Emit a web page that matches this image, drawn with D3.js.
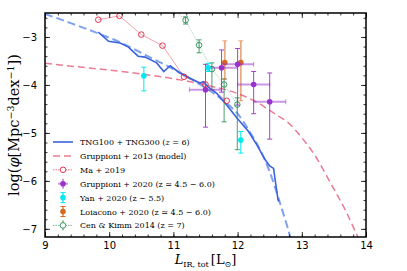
<!DOCTYPE html>
<html>
<head>
<meta charset="utf-8">
<script src="https://cdn.jsdelivr.net/npm/d3@7"></script>
<style>
body { margin: 0; background: #fff; }
svg text { fill: #000; }
.tick text { font-family: "DejaVu Sans", sans-serif; font-size: 10px; }
.leg { font-family: "DejaVu Serif", serif; font-size: 8px; }
</style>
</head>
<body>
<svg id="viz"></svg>
<script>
// TNG100+TNG300 (solid)
var tngX = [9.83, 9.99, 10.17, 10.30, 10.45, 10.56, 10.74, 10.85, 10.95, 11.09, 11.26, 11.41, 11.47, 11.54, 11.67, 11.83, 11.99, 12.17, 12.30, 12.43, 12.50, 12.56, 12.63, 12.645]
var tngY = [-2.90, -3.09, -3.125, -3.21, -3.40, -3.42, -3.54, -3.72, -3.60, -3.74, -3.86, -3.96, -3.93, -4.04, -4.17, -4.42, -4.69, -4.97, -5.25, -5.56, -5.69, -5.74, -6.40, -6.43]

// dashed fit to TNG
var fitX = [9.0, 9.4, 9.8, 10.2, 10.6, 11.0, 11.4, 11.8, 12.0, 12.2, 12.35, 12.5, 12.66, 12.82, 12.9]
var fitY = [-2.52, -2.71, -2.91, -3.13, -3.40, -3.67, -3.98, -4.35, -4.60, -5.0, -5.35, -5.81, -6.46, -7.17, -7.6]

// Gruppioni+2013 model
var g13X = [9.0, 9.5, 10.0, 10.5, 11.0, 11.5, 12.0, 12.3, 12.6, 12.8, 13.0, 13.2, 13.45, 13.7, 13.86, 14.0]
var g13Y = [-3.55, -3.62, -3.69, -3.77, -3.87, -4.0, -4.18, -4.36, -4.62, -4.80, -5.1, -5.46, -6.05, -6.67, -7.13, -7.5]

// Ma+2019
var maX = [9.83, 10.16, 10.50, 10.83, 11.165, 11.50, 11.83]
var maY = [-2.64, -2.56, -2.95, -3.18, -3.83, -3.99, -4.33]

// Gruppioni+2020
var gr20X = [11.5, 11.75, 12.0, 12.25, 12.5]
var gr20Y = [-4.10, -3.64, -3.57, -3.99, -4.35]
var gr20Hi = [-3.57, -3.27, -3.24, -3.72, -3.75]
var gr20Lo = [-4.88, -4.15, -4.42, -4.60, -5.13]
var gr20Xerr = 0.25

// Yan+2020
var yanX = [10.54, 11.54, 12.05]
var yanY = [-3.81, -3.64, -5.15]
var yanHi = [-3.63, -3.55, -4.97]
var yanLo = [-4.125, -3.72, -5.42]

// Loiacono+2020
var loiX = [11.80, 12.05]
var loiY = [-3.535, -3.535]
var loiHi = [-3.08, -3.08]
var loiLo = [-3.88, -4.33]

// Cen & Kimm 2014
var cenX = [11.0, 11.19, 11.40, 11.60, 11.79, 11.995]
var cenY = [-2.42, -2.65, -3.17, -3.67, -3.99, -4.41]
var cenHi = [-2.35, -2.58, -3.06, -3.54, -3.875, -4.27]
var cenLo = [-2.5, -2.73, -3.33, -4.10, -4.77, -5.35]

var xTicks = [9, 10, 11, 12, 13, 14]
var yTicks = [-3, -4, -5, -6, -7]

var width = 407
var height = 271
var margin = {left: 45, top: 13, right: 41, bottom: 34}
var plotW = width - margin.left - margin.right
var plotH = height - margin.top - margin.bottom

var cBlue = "#3b63dd"
var cFit = "#7097ee"
var cPink = "#ec7c95"
var cRed = "#e0203f"
var cPurple = "#9932cc"
var cCyan = "#00e8f0"
var cOrange = "#d5681f"
var cGreen = "#2e8b57"

var svg = d3.select("#viz")
	.attr("width", width)
	.attr("height", height)

var x = d3.scaleLinear().domain([9, 14]).range([0, plotW])
var y = d3.scaleLinear().domain([-7.17, -2.5]).range([plotH, 0])

var g = svg.append("g").attr("transform", "translate(" + margin.left + "," + margin.top + ")")

svg.append("defs").append("clipPath").attr("id", "clip")
	.append("rect").attr("width", plotW).attr("height", plotH)

var plot = g.append("g").attr("clip-path", "url(#clip)")

function zip(xs, ys){
	return xs.map((v, i) => [v, ys[i]])
}

var line = d3.line().x(d => x(d[0])).y(d => y(d[1]))
var smooth = d3.line().x(d => x(d[0])).y(d => y(d[1])).curve(d3.curveMonotoneX)

// model curves
plot.append("path")
	.attr("d", smooth(zip(g13X, g13Y)))
	.attr("fill", "none").attr("stroke", cPink).attr("stroke-width", 1.5)
	.attr("stroke-dasharray", "7,4")

plot.append("path")
	.attr("d", smooth(zip(fitX, fitY)))
	.attr("fill", "none").attr("stroke", cFit).attr("stroke-width", 2).attr("opacity", 0.9)
	.attr("stroke-dasharray", "8,4")

// connecting lines for observations
plot.append("path")
	.attr("d", line(zip(maX, maY)))
	.attr("fill", "none").attr("stroke", cRed).attr("stroke-width", 0.6).attr("opacity", 0.7)

plot.append("path")
	.attr("d", line(zip(cenX, cenY)))
	.attr("fill", "none").attr("stroke", cGreen).attr("stroke-width", 0.6).attr("opacity", 0.6)
	.attr("stroke-dasharray", "1.5,1")

// TNG
plot.append("path")
	.attr("d", line(zip(tngX, tngY)))
	.attr("fill", "none").attr("stroke", cBlue).attr("stroke-width", 1.6)

function vbars(xs, hi, lo, color, w, op){
	xs.forEach(function(v, i){
		var px = x(v)
		plot.append("line").attr("x1", px).attr("x2", px).attr("y1", y(hi[i])).attr("y2", y(lo[i]))
			.attr("stroke", color).attr("stroke-width", w).attr("opacity", op)
		;[hi[i], lo[i]].forEach(function(e){
			plot.append("line").attr("x1", px - 2.5).attr("x2", px + 2.5).attr("y1", y(e)).attr("y2", y(e))
				.attr("stroke", color).attr("stroke-width", 1).attr("opacity", op)
		})
	})
}

function hbars(xs, ys, err, color, w, op){
	xs.forEach(function(v, i){
		var py = y(ys[i])
		plot.append("line").attr("x1", x(v - err)).attr("x2", x(v + err)).attr("y1", py).attr("y2", py)
			.attr("stroke", color).attr("stroke-width", w).attr("opacity", op)
		;[v - err, v + err].forEach(function(e){
			plot.append("line").attr("x1", x(e)).attr("x2", x(e)).attr("y1", py - 2.5).attr("y2", py + 2.5)
				.attr("stroke", color).attr("stroke-width", 1).attr("opacity", op)
		})
	})
}

// Cen & Kimm
vbars(cenX, cenHi, cenLo, cGreen, 1, 0.85)
plot.selectAll(".cen").data(zip(cenX, cenY)).enter().append("circle")
	.attr("cx", d => x(d[0])).attr("cy", d => y(d[1])).attr("r", 2.8)
	.attr("fill", "none").attr("stroke", cGreen).attr("stroke-width", 0.9)

// Loiacono
vbars(loiX, loiHi, loiLo, cOrange, 1.8, 0.55)
plot.selectAll(".loi").data(zip(loiX, loiY)).enter().append("circle")
	.attr("cx", d => x(d[0])).attr("cy", d => y(d[1])).attr("r", 2.8)
	.attr("fill", cOrange)

// Gruppioni 2020
hbars(gr20X, gr20Y, gr20Xerr, cPurple, 2, 0.5)
vbars(gr20X, gr20Hi, gr20Lo, cPurple, 1, 0.9)
plot.selectAll(".gr").data(zip(gr20X, gr20Y)).enter().append("circle")
	.attr("cx", d => x(d[0])).attr("cy", d => y(d[1])).attr("r", 2.8)
	.attr("fill", cPurple)

// Yan
vbars(yanX, yanHi, yanLo, cCyan, 1, 1)
plot.selectAll(".yan").data(zip(yanX, yanY)).enter().append("circle")
	.attr("cx", d => x(d[0])).attr("cy", d => y(d[1])).attr("r", 2.8)
	.attr("fill", cCyan)

// Ma
plot.selectAll(".ma").data(zip(maX, maY)).enter().append("circle")
	.attr("cx", d => x(d[0])).attr("cy", d => y(d[1])).attr("r", 2.8)
	.attr("fill", "none").attr("stroke", cRed).attr("stroke-width", 0.9)

// axes, ticks inward on all sides
var xMinor = d3.range(9, 14.001, 0.2)
var yMinor = d3.range(-7.0, -2.49, 0.2)

g.append("g").attr("transform", "translate(0," + plotH + ")")
	.call(d3.axisBottom(x).tickValues(xMinor).tickSize(-2.5).tickFormat(""))
g.append("g").attr("transform", "translate(0," + plotH + ")")
	.call(d3.axisBottom(x).tickValues(xTicks).tickSize(-5).tickPadding(5).tickFormat(d3.format("d")))
g.append("g")
	.call(d3.axisTop(x).tickValues(xMinor).tickSize(-2.5).tickFormat(""))
g.append("g")
	.call(d3.axisTop(x).tickValues(xTicks).tickSize(-5).tickFormat(""))

g.append("g")
	.call(d3.axisLeft(y).tickValues(yMinor).tickSize(-2.5).tickFormat(""))
g.append("g")
	.call(d3.axisLeft(y).tickValues(yTicks).tickSize(-5).tickPadding(8).tickFormat(d => "\u2212" + Math.abs(d)))
g.append("g").attr("transform", "translate(" + plotW + ",0)")
	.call(d3.axisRight(y).tickValues(yMinor).tickSize(-2.5).tickFormat(""))
g.append("g").attr("transform", "translate(" + plotW + ",0)")
	.call(d3.axisRight(y).tickValues(yTicks).tickSize(-5).tickFormat(""))

g.selectAll(".domain").remove()
g.selectAll(".tick line").attr("stroke", "#000").attr("stroke-width", 0.8)

g.append("rect").attr("width", plotW).attr("height", plotH)
	.attr("fill", "none").attr("stroke", "#000").attr("stroke-width", 1.5)

// axis labels
svg.append("text")
	.attr("x", margin.left + plotW / 2).attr("y", 264)
	.attr("text-anchor", "middle")
	.style("font-family", "'DejaVu Serif', serif").style("font-size", "13px")
	.html('<tspan font-style="italic">L</tspan><tspan font-size="8px" dy="3">IR, tot</tspan><tspan dy="-3" dx="2">[L</tspan><tspan font-size="8px" dy="3">\u2299</tspan><tspan dy="-3">]</tspan>')

svg.append("text")
	.attr("transform", "translate(19," + (margin.top + plotH / 2) + ") rotate(-90)")
	.attr("text-anchor", "middle")
	.style("font-family", "'DejaVu Serif', serif").style("font-size", "14.5px")
	.html('log(<tspan font-style="italic">\u03c6</tspan>[Mpc<tspan font-size="9.5px" dy="-5">\u22123</tspan><tspan dy="5">dex</tspan><tspan font-size="9.5px" dy="-5">\u22121</tspan><tspan dy="5">])</tspan>')

// legend
var legendNames = [
	'TNG100 + TNG300 (<tspan font-style="italic">z</tspan> = 6)',
	'Gruppioni + 2013 (model)',
	'Ma + 2019',
	'Gruppioni + 2020 (z \u2243 4.5 \u2212 6.0)',
	'Yan + 2020 (z \u223c 5.5)',
	'Loiacono + 2020 (z \u2243 4.5 \u2212 6.0)',
	'Cen &amp; Kimm 2014 (z = 7)'
]

var leg = svg.append("g")
var lx0 = 53, lx1 = 73, lcx = 63, ltx = 80, ly0 = 142, ldy = 13.9

legendNames.forEach(function(name, i){
	var ly = ly0 + i * ldy
	var row = leg.append("g")
	if(i == 0){
		row.append("line").attr("x1", lx0).attr("x2", lx1).attr("y1", ly).attr("y2", ly)
			.attr("stroke", cBlue).attr("stroke-width", 1.6)
	}
	if(i == 1){
		row.append("line").attr("x1", lx0).attr("x2", lx1).attr("y1", ly).attr("y2", ly)
			.attr("stroke", cPink).attr("stroke-width", 1.5).attr("stroke-dasharray", "7,4")
	}
	if(i == 2){
		row.append("line").attr("x1", lx0).attr("x2", lx1).attr("y1", ly).attr("y2", ly)
			.attr("stroke", cRed).attr("stroke-width", 0.6).attr("stroke-dasharray", "1.5,1")
		row.append("circle").attr("cx", lcx).attr("cy", ly).attr("r", 2.8)
			.attr("fill", "#fff").attr("stroke", cRed).attr("stroke-width", 0.9)
	}
	if(i == 3){
		row.append("line").attr("x1", lcx - 5).attr("x2", lcx + 5).attr("y1", ly).attr("y2", ly)
			.attr("stroke", cPurple).attr("stroke-width", 2).attr("opacity", 0.5)
		row.append("line").attr("x1", lcx).attr("x2", lcx).attr("y1", ly - 5).attr("y2", ly + 5)
			.attr("stroke", cPurple).attr("stroke-width", 1)
		row.append("circle").attr("cx", lcx).attr("cy", ly).attr("r", 2.8).attr("fill", cPurple)
	}
	if(i == 4 || i == 5){
		var c = i == 4 ? cCyan : cOrange
		row.append("line").attr("x1", lcx).attr("x2", lcx).attr("y1", ly - 5).attr("y2", ly + 5)
			.attr("stroke", c).attr("stroke-width", 1.2)
		;[ly - 5, ly + 5].forEach(function(e){
			row.append("line").attr("x1", lcx - 2.5).attr("x2", lcx + 2.5).attr("y1", e).attr("y2", e)
				.attr("stroke", c).attr("stroke-width", 1)
		})
		row.append("circle").attr("cx", lcx).attr("cy", ly).attr("r", 2.8).attr("fill", c)
	}
	if(i == 6){
		row.append("line").attr("x1", lx0).attr("x2", lx1).attr("y1", ly).attr("y2", ly)
			.attr("stroke", cGreen).attr("stroke-width", 0.6).attr("stroke-dasharray", "1.5,1")
		row.append("line").attr("x1", lcx).attr("x2", lcx).attr("y1", ly - 5).attr("y2", ly + 5)
			.attr("stroke", cGreen).attr("stroke-width", 1)
		row.append("circle").attr("cx", lcx).attr("cy", ly).attr("r", 2.8)
			.attr("fill", "#fff").attr("stroke", cGreen).attr("stroke-width", 0.9)
	}
	row.append("text").attr("class", "leg").attr("x", ltx).attr("y", ly + 3)
		.html(name)
})
</script>
</body>
</html>
